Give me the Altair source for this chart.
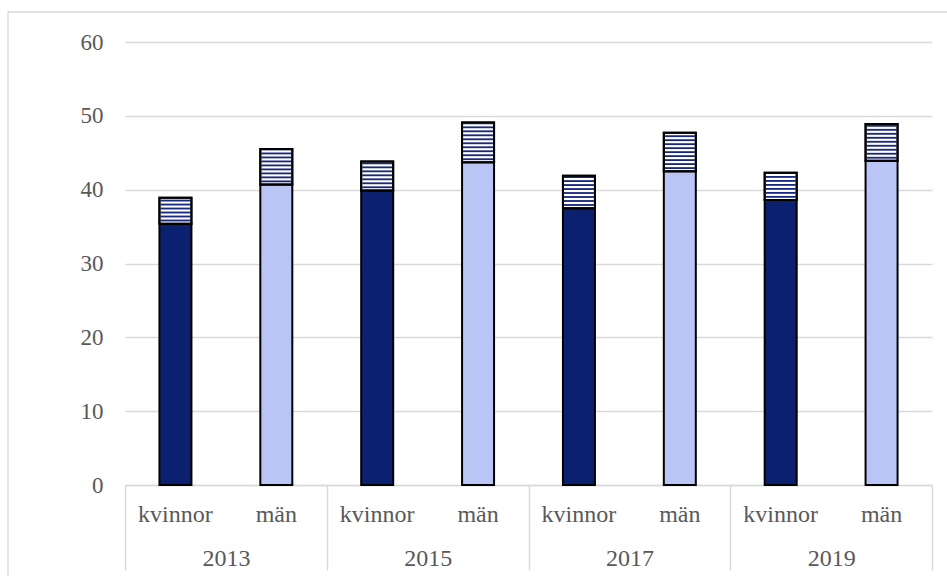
import altair as alt
import pandas as pd

# Share of working time (percent), per year and sex
years = ["2013", "2015", "2017", "2019"]
genders = ["kvinnor", "män"]

kvinnor_base = [35.4, 39.9, 37.5, 38.6]
kvinnor_extra = [3.5, 3.9, 4.4, 3.7]
man_base = [40.7, 43.7, 42.5, 43.9]
man_extra = [4.8, 5.4, 5.2, 5.0]

y_ticks = [0, 10, 20, 30, 40, 50, 60]

FONT = "Liberation Serif"
LABEL_FONT = "'Times New Roman', 'Liberation Serif', serif"
TEXT = "#595959"
GRID = "#d9d9d9"
DARK = "#0c2070"
LIGHT = "#b9c5f5"
STRIPE = "#18287e"

rows = []
for i, yr in enumerate(years):
    for g, base, extra in (("kvinnor", kvinnor_base[i], kvinnor_extra[i]),
                           ("män", man_base[i], man_extra[i])):
        rows.append({"year": yr, "gender": g, "key": f"{yr}|{g}",
                     "base": base, "total": round(base + extra, 2)})
df = pd.DataFrame(rows)

# horizontal hatching inside the upper segment of each bar
stripe_step = 0.54
stripe_rows = []
for r in rows:
    v = r["base"] + 0.3
    while v < r["total"] - 0.15:
        stripe_rows.append({"year": r["year"], "gender": r["gender"],
                            "lo": v, "hi": v + 0.25})
        v += stripe_step
stripes_df = pd.DataFrame(stripe_rows)

x_year = alt.X(
    "year:N",
    sort=years,
    title=None,
    scale=alt.Scale(paddingInner=0, paddingOuter=0),
    axis=alt.Axis(
        title=None, orient="bottom", grid=False, domain=True, domainColor=GRID,
        domainWidth=1.5, ticks=True, tickBand="extent", tickSize=85, tickColor=GRID,
        tickWidth=1.5, labelFont=FONT, labelFontSize=24, labelColor=TEXT,
        labelBaseline="alphabetic", labelPadding=-5, labelAngle=0, zindex=0,
    ),
)
x_off = alt.XOffset("gender:N", sort=genders, scale=alt.Scale(paddingInner=0, paddingOuter=0))
y_scale = alt.Scale(domain=[0, 60], nice=False)
color_scale = alt.Scale(domain=genders, range=[DARK, LIGHT])

base_bars = alt.Chart(df).mark_bar(size=32, stroke="black", strokeWidth=2).encode(
    x=x_year,
    xOffset=x_off,
    y=alt.Y("base:Q", scale=y_scale,
            axis=alt.Axis(values=y_ticks, grid=True, gridColor=GRID, gridWidth=1.4,
                          domain=False, ticks=False, tickSize=0, labelPadding=22,
                          labelFont=FONT, labelFontSize=23, labelColor=TEXT,
                          title="Procent av arbetstiden", titleFont=FONT,
                          titleFontSize=25, titleFontWeight="normal", titleColor=TEXT,
                          titleX=-72, titleBaseline="alphabetic")),
    y2=alt.datum(0),
    color=alt.Color("gender:N", scale=color_scale, legend=None),
)

hatch_bg = alt.Chart(df).mark_bar(size=32, fill="white", stroke="black", strokeWidth=2).encode(
    x=x_year, xOffset=x_off,
    y=alt.Y("base:Q", scale=y_scale, title=None), y2="total:Q",
)

stripes = alt.Chart(stripes_df).mark_bar(size=30, color=STRIPE).encode(
    x=x_year, xOffset=x_off,
    y=alt.Y("lo:Q", scale=y_scale, title=None), y2="hi:Q",
)

hatch_outline = alt.Chart(df).mark_bar(size=32, fillOpacity=0, stroke="black", strokeWidth=2).encode(
    x=x_year, xOffset=x_off,
    y=alt.Y("base:Q", scale=y_scale, title=None), y2="total:Q",
)

bars = alt.layer(base_bars, hatch_bg, stripes, hatch_outline)

# second row of category labels (kvinnor / män), one per bar, under the axis line
gender_labels = alt.Chart(df).mark_text(
    font=LABEL_FONT, fontSize=24, color=TEXT, baseline="alphabetic", align="center"
).encode(
    x=alt.X("key:N", sort=list(df["key"]),
            scale=alt.Scale(paddingInner=0, paddingOuter=0), axis=None),
    y=alt.value(480),
    text="gender:N",
)

frame = alt.Chart(pd.DataFrame({"f": [0]})).mark_rect(
    fillOpacity=0, stroke=GRID, strokeWidth=1.3
).encode(
    x=alt.value(-117), x2=alt.value(830), y=alt.value(-30), y2=alt.value(540)
)

chart = (
    alt.layer(frame, bars, gender_labels)
    .resolve_scale(x="independent")
    .properties(
        width=807, height=443,
        autosize=alt.AutoSizeParams(type="none"),
        padding={"left": 125, "top": 42, "right": 15, "bottom": 91},
        background="white",
    )
    .configure_view(strokeWidth=0)
)

chart.save("out.html", embed_options={"renderer": "svg", "actions": False})
